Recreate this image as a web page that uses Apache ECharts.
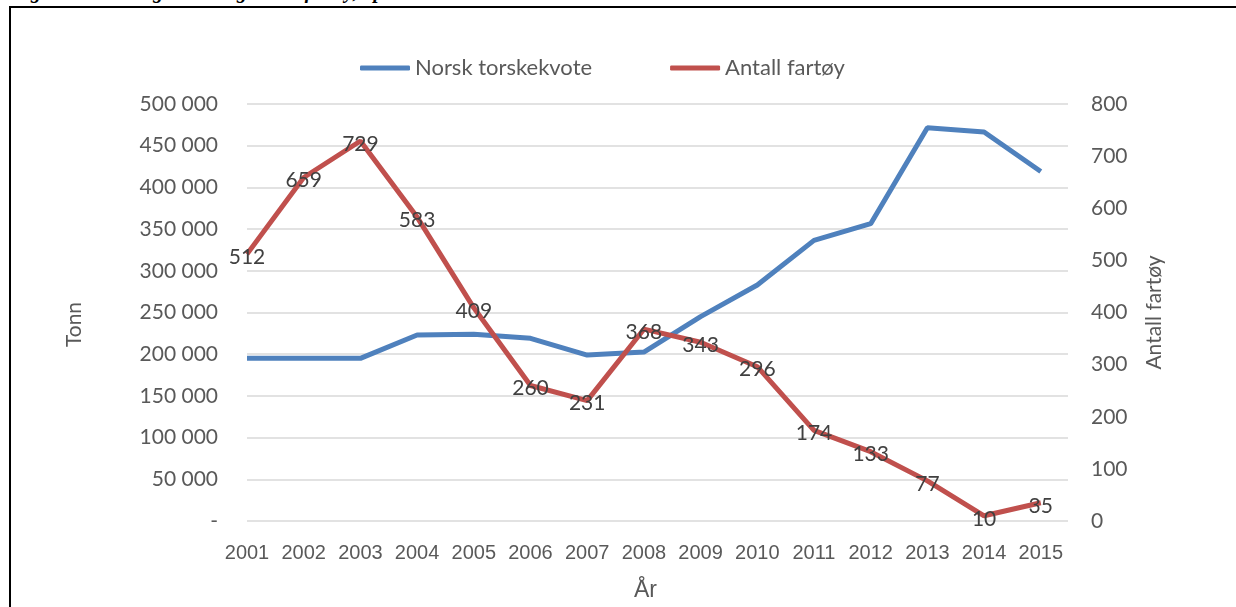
<!DOCTYPE html>
<html>
<head>
<meta charset="utf-8">
<script src="https://cdn.jsdelivr.net/npm/echarts@6/dist/echarts.min.js"></script>
<style>
    html, body { margin: 0; padding: 0; background: #fff; overflow: hidden; }
    #caption {
        position: absolute; left: 12px; top: -19px; height: 22px; line-height: 20px;
        font-family: "Liberation Serif", serif; font-style: italic; font-weight: bold;
        font-size: 20px; color: #000; white-space: nowrap;
    }
    #frame {
        position: absolute; left: 9px; top: 6px; width: 1240px; height: 700px;
        border: 2px solid #000; box-sizing: border-box;
    }
    #chart { position: absolute; left: 0; top: 0; width: 1236px; height: 607px; }
</style>
</head>
<body>
<div id="caption">Figur 4: Utvikling i kvote og antall fartøy, i perioden 2001 - 2015</div>
<div id="frame"></div>
<div id="chart"></div>
<script>
(function (window) {
    "use strict";
    var years = [2001, 2002, 2003, 2004, 2005, 2006, 2007, 2008, 2009, 2010, 2011, 2012, 2013, 2014, 2015];
    var kvote = [195000, 195000, 195000, 223000, 224000, 219000, 199000, 202500, 245000, 283000, 336500, 356500, 471500, 466500, 419000];
    var fartoy = [512, 659, 729, 583, 409, 260, 231, 368, 343, 296, 174, 133, 77, 10, 35];
    var tonnTicks = [0, 50000, 100000, 150000, 200000, 250000, 300000, 350000, 400000, 450000, 500000];

    var fontName = "Lato, 'Open Sans', sans-serif";
    var narrowFont = "'Liberation Sans Narrow', sans-serif";
    var textColor = '#595959';

    var fmt_tonn = function (v) {
        if (v === 0) return '-';
        return String(v).replace(/\B(?=(\d{3})+(?!\d))/g, ' ');
    };

    var pairs = function (vals) {
        return vals.map(function (v, i) { return [years[i], v]; });
    };

    var chart = echarts.init(document.getElementById('chart'));
    var option = {
        animation: false,
        textStyle: { fontFamily: fontName },
        grid: { left: 247, right: 168, top: 104, bottom: 80 },
        legend: {
            left: 355, top: 52,
            icon: 'roundRect', itemWidth: 50, itemHeight: 5, itemGap: 78,
            textStyle: { color: textColor, fontSize: 22, fontFamily: fontName },
            data: ['Norsk torskekvote', 'Antall fartøy']
        },
        xAxis: {
            type: 'value',
            min: years[0], max: years[years.length - 1] + 0.48, interval: 1,
            name: 'År', nameLocation: 'middle', nameGap: 58,
            nameTextStyle: { color: textColor, fontSize: 23, fontFamily: narrowFont, padding: [0, 24, 0, 0] },
            axisLine: { show: false }, axisTick: { show: false }, splitLine: { show: false },
            axisLabel: {
                color: textColor, fontSize: 20, margin: 22,
                fontFamily: narrowFont,
                showMaxLabel: false,
                formatter: function (v) { return years.indexOf(v) >= 0 ? String(v) : ''; }
            }
        },
        yAxis: [{
            type: 'value', min: 0, max: tonnTicks[tonnTicks.length - 1], interval: tonnTicks[1],
            name: 'Tonn', nameLocation: 'middle', nameGap: 162, nameRotate: 90,
            nameTextStyle: { color: textColor, fontSize: 21, fontFamily: fontName, padding: [0, 0, 0, -24] },
            axisLine: { show: false }, axisTick: { show: false },
            axisLabel: { color: textColor, fontSize: 21, margin: 29, formatter: fmt_tonn },
            splitLine: { lineStyle: { color: '#d9d9d9', width: 1.5 } }
        }, {
            type: 'value', min: 0, max: 800, interval: 100,
            name: 'Antall fartøy', nameLocation: 'middle', nameGap: 76, nameRotate: 90,
            nameTextStyle: { color: textColor, fontSize: 21, fontFamily: fontName },
            axisLine: { show: false }, axisTick: { show: false },
            axisLabel: { color: textColor, fontSize: 21, margin: 23 },
            splitLine: { show: false }
        }],
        series: [{
            name: 'Norsk torskekvote', type: 'line', yAxisIndex: 0,
            data: pairs(kvote),
            symbol: 'none',
            lineStyle: { color: '#4f81bd', width: 5 },
            itemStyle: { color: '#4f81bd' }
        }, {
            name: 'Antall fartøy', type: 'line', yAxisIndex: 1,
            data: pairs(fartoy),
            symbol: 'circle', symbolSize: 0.1,
            lineStyle: { color: '#c0504d', width: 5 },
            itemStyle: { color: '#c0504d' },
            label: {
                show: true, position: 'inside', offset: [0, 3], color: '#404040', fontSize: 21, fontFamily: fontName,
                formatter: function (p) { return p.value[1]; }
            }
        }]
    };
    chart.setOption(option);
})(window);
</script>
</body>
</html>
